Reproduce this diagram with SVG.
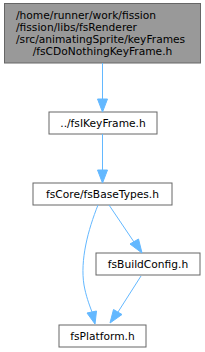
<svg xmlns="http://www.w3.org/2000/svg" width="205" height="352" viewBox="0 0 205 352">
<defs>
<style>
.box{fill:#ffffff;stroke:#666666;stroke-width:1}
.cur{fill:#999999;stroke:#666666;stroke-width:1}
text{font-family:"DejaVu Sans","Liberation Sans",sans-serif;font-size:10.67px;fill:#000000}
.e{fill:none;stroke:#63b8ff;stroke-width:1}
.h{fill:#63b8ff;stroke:#63b8ff;stroke-width:1}
</style>
</defs>
<rect width="205" height="352" fill="#ffffff"/>
<g id="node1">
<rect class="cur" x="4.5" y="3.5" width="196" height="59.5"/>
<text x="16" y="19">/home/runner/work/fission</text>
<text x="16" y="31">/fission/libs/fsRenderer</text>
<text x="16" y="43">/src/animatingSprite/keyFrames</text>
<text x="102.5" y="55" text-anchor="middle">/fsCDoNothingKeyFrame.h</text>
</g>
<g id="node2">
<rect class="box" x="49" y="112" width="108" height="22"/>
<text x="103" y="127" text-anchor="middle">../fsIKeyFrame.h</text>
</g>
<g id="node3">
<rect class="box" x="33" y="183" width="139" height="22"/>
<text x="102.5" y="198" text-anchor="middle">fsCore/fsBaseTypes.h</text>
</g>
<g id="node4">
<rect class="box" x="96" y="253" width="104" height="22"/>
<text x="148" y="268" text-anchor="middle">fsBuildConfig.h</text>
</g>
<g id="node5">
<rect class="box" x="59" y="325" width="87" height="22"/>
<text x="102.5" y="340" text-anchor="middle">fsPlatform.h</text>
</g>
<g id="edges">
<path class="e" d="M102.5,63 L102.5,99"/>
<polygon class="h" points="97.5,99 102.5,112 107.5,99"/>
<path class="e" d="M102.5,134 L102.5,170"/>
<polygon class="h" points="97.5,170 102.5,183 107.5,170"/>
<path class="e" d="M98,205 C88,230 80,260 84,285 C86,296 89,304 92,312"/>
<polygon class="h" points="87,313 95,324 96.5,311"/>
<path class="e" d="M109,205 L134,242"/>
<polygon class="h" points="130,244 142,253 138.5,239"/>
<path class="e" d="M141,276 L118,312"/>
<polygon class="h" points="113.5,309.5 110,323 122,314.5"/>
</g>
</svg>
